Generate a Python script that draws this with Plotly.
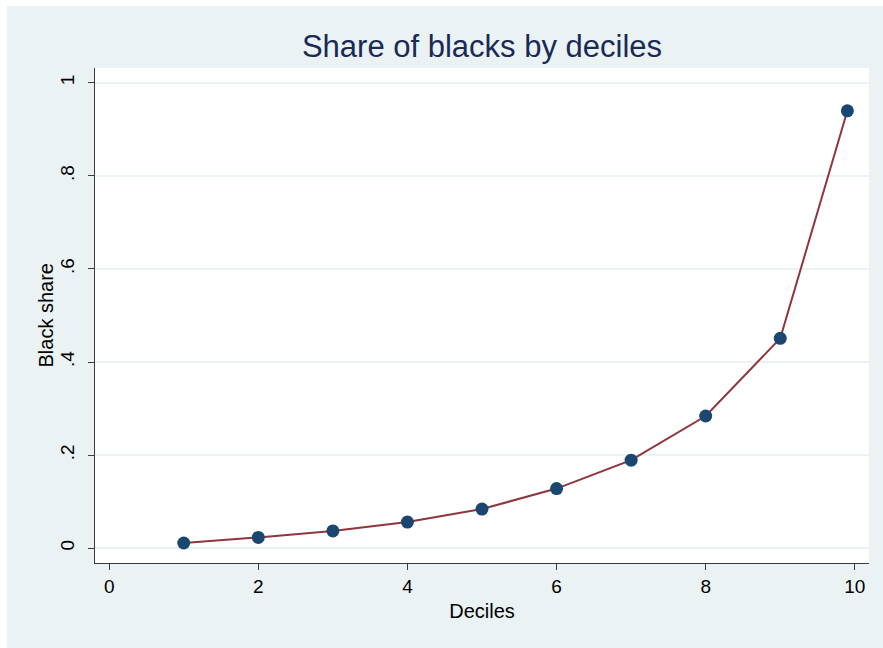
import plotly.graph_objects as go

deciles = [1, 2, 3, 4, 5, 6, 7, 8, 9, 9.9]
black_share = [0.011, 0.023, 0.037, 0.056, 0.084, 0.128, 0.189, 0.284, 0.451, 0.940]

x_ticks = [0, 2, 4, 6, 8, 10]
y_ticks = [0, 0.2, 0.4, 0.6, 0.8, 1.0]
y_tick_labels = ["0", ".2", ".4", ".6", ".8", "1"]

# Page body margin set to 6px top / 7px left; figure fills the rest of the window
W, H = 876, 642
L, R, T, B = 88, 14, 62, 85
PW = W - L - R

FONT = "Liberation Sans, Arial, Helvetica, sans-serif"
BG = "#eaf2f3"
AX = "#3c3c3c"

fig = go.Figure()
fig.add_trace(go.Scatter(
    x=deciles, y=black_share, mode="lines",
    line=dict(color="#90353b", width=2), hoverinfo="skip", showlegend=False,
))
fig.add_trace(go.Scatter(
    x=deciles, y=black_share, mode="markers",
    marker=dict(color="#1a476f", size=13, line=dict(width=0)), showlegend=False,
))

fig.update_layout(
    width=W, height=H,
    margin=dict(l=L, r=R, t=T, b=B, autoexpand=False),
    paper_bgcolor=BG,
    plot_bgcolor="white",
    font=dict(family=FONT, color="black", size=18),
    title=dict(
        text="Share of blacks by deciles",
        font=dict(family=FONT, size=31, color="#1a2a57"),
        x=0.5, xref="paper", xanchor="center",
        y=1 - 40 / H, yref="container", yanchor="middle",
    ),
    annotations=[
        dict(text="Black share", textangle=-90, showarrow=False,
             xref="paper", yref="paper", x=(38 - L) / PW, y=0.5,
             xanchor="center", yanchor="middle",
             font=dict(family=FONT, size=20, color="black")),
    ],
    xaxis=dict(
        range=[-0.19, 10.19], tickvals=x_ticks, ticktext=[str(v) for v in x_ticks],
        showgrid=False, zeroline=False, automargin=False,
        showline=True, linecolor=AX, linewidth=1.3,
        ticks="outside", ticklen=6, tickwidth=1.3, tickcolor=AX,
        tickfont=dict(size=19),
        title=dict(text="Deciles", font=dict(size=20), standoff=8),
    ),
    yaxis=dict(
        range=[-0.032, 1.032], tickvals=y_ticks, ticktext=y_tick_labels,
        showgrid=True, gridcolor=BG, gridwidth=1.5, zeroline=False, automargin=False,
        showline=True, linecolor=AX, linewidth=1.3,
        ticks="outside", ticklen=6, tickwidth=1.3, tickcolor=AX,
        tickangle=-90, tickfont=dict(size=19), ticklabelstandoff=6,
    ),
)

fig.write_html(
    "out.html",
    post_script="document.body.style.margin='6px 0 0 7px';"
                "document.documentElement.style.overflow='hidden';"
                "document.body.style.overflow='hidden';",
)
